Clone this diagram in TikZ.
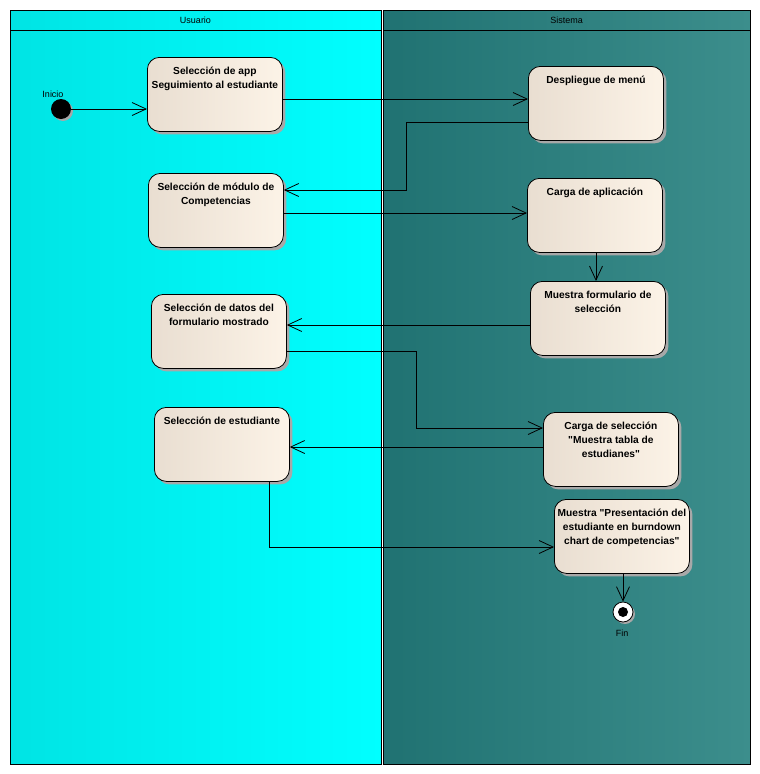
\documentclass[tikz,border=0pt]{standalone}
\usepackage{fontspec}
\setmainfont{Liberation Sans}
\usepackage{xcolor}
\usetikzlibrary{positioning,arrows.meta,shadows}

\definecolor{usuarioA}{HTML}{00E4E4}
\definecolor{usuarioB}{HTML}{00FFFF}
\definecolor{sistemaA}{HTML}{207272}
\definecolor{sistemaB}{HTML}{3C8E8C}
\definecolor{actA}{HTML}{E9DED1}
\definecolor{actB}{HTML}{FCF3E7}
\definecolor{sombra}{HTML}{A8A8A8}

\newcommand{\acttext}[1]{\begin{tabular}[t]{@{}c@{}}#1\end{tabular}}

\begin{document}
\begin{tikzpicture}[
    x=1pt, y=-1pt,
    lane/.style={
        draw=black,
        line width=1pt
    },
    act/.style={
        draw,
        rounded corners=12pt,
        anchor=north west,
        minimum width=135pt,
        minimum height=74pt,
        inner xsep=2pt,
        inner ysep=4pt,
        text height=13pt,
        text depth=53pt,
        font=\fontsize{10.2}{14}\selectfont\bfseries,
        left color=actA,
        right color=actB,
        line width=0.8pt,
        drop shadow={shadow xshift=3pt, shadow yshift=-3pt, fill=sombra, opacity=1}
    },
    lbl/.style={
        font=\fontsize{9}{11}\selectfont,
        inner sep=1pt
    },
    arrow/.style={
        -{Straight Barb[length=14pt,width=13pt]},
        line width=0.8pt
    }
]

\useasboundingbox (0,0) rectangle (760,774);

\shade[left color=usuarioA, right color=usuarioB] (10,10) rectangle (381,764);
\shade[left color=sistemaA, right color=sistemaB] (383,10) rectangle (750,764);
\draw[lane] (10,10) rectangle (381,764);
\draw[lane] (383,10) rectangle (750,764);
\draw[lane] (10,30) -- (381,30);
\draw[lane] (383,30) -- (750,30);

\node[lbl] (usuario) at (195.5,20) {Usuario};
\node[lbl] (sistema) at (566.5,20) {Sistema};

\node[circle, fill=black, minimum size=20pt, inner sep=0pt,
      drop shadow={shadow xshift=2pt, shadow yshift=-2pt, fill=sombra, opacity=1}] (inicio) at (61,109) {};
\node[lbl] (inicioLabel) at (53,94) {Inicio};

\node[act] (app) at (147,57) {\acttext{Selección de app\\Seguimiento al estudiante}};
\node[act] (menu) at (528,66) {\acttext{Despliegue de menú}};
\node[act] (modulo) at (148,173) {\acttext{Selección de módulo de\\Competencias}};
\node[act] (carga) at (527,178) {\acttext{Carga de aplicación}};
\node[act] (formulario) at (530,281) {\acttext{Muestra formulario de\\selección}};
\node[act] (datos) at (151,294) {\acttext{Selección de datos del\\formulario mostrado}};
\node[act] (estudiante) at (154,407) {\acttext{Selección de estudiante}};
\node[act] (tabla) at (543,412) {\acttext{Carga de selección\\\textquotedbl Muestra tabla de\\estudianes\textquotedbl}};
\node[act] (burndown) at (554,499) {\acttext{Muestra \textquotedbl Presentación del\\estudiante en burndown\\chart de competencias\textquotedbl}};

\node[circle, draw, fill=white, line width=0.8pt, minimum size=20pt, inner sep=0pt,
      drop shadow={shadow xshift=2pt, shadow yshift=-2pt, fill=sombra, opacity=1}] (fin) at (623,612) {};
\fill (fin.center) circle (5pt);
\node[lbl] (finLabel) at (622,633) {Fin};

\draw[arrow] (inicio) -- (app.west |- 0,109);
\draw[arrow] (app.east |- 0,99) -- (menu.west |- 0,99);
\draw[arrow] (menu.west |- 0,122) -| (406,190) -- (modulo.east |- 0,190);
\draw[arrow] (modulo.east |- 0,213) -- (carga.west |- 0,213);
\draw[arrow] (carga.south -| 596,0) -- (formulario.north -| 596,0);
\draw[arrow] (formulario.west |- 0,325) -- (datos.east |- 0,325);
\draw[arrow] (datos.east |- 0,351) -| (416,428) -- (tabla.west |- 0,428);
\draw[arrow] (tabla.west |- 0,447) -- (estudiante.east |- 0,447);
\draw[arrow] (estudiante.south -| 269,0) |- (burndown.west |- 0,547);
\draw[arrow] (burndown.south -| 623,0) -- (fin);

\end{tikzpicture}
\end{document}
